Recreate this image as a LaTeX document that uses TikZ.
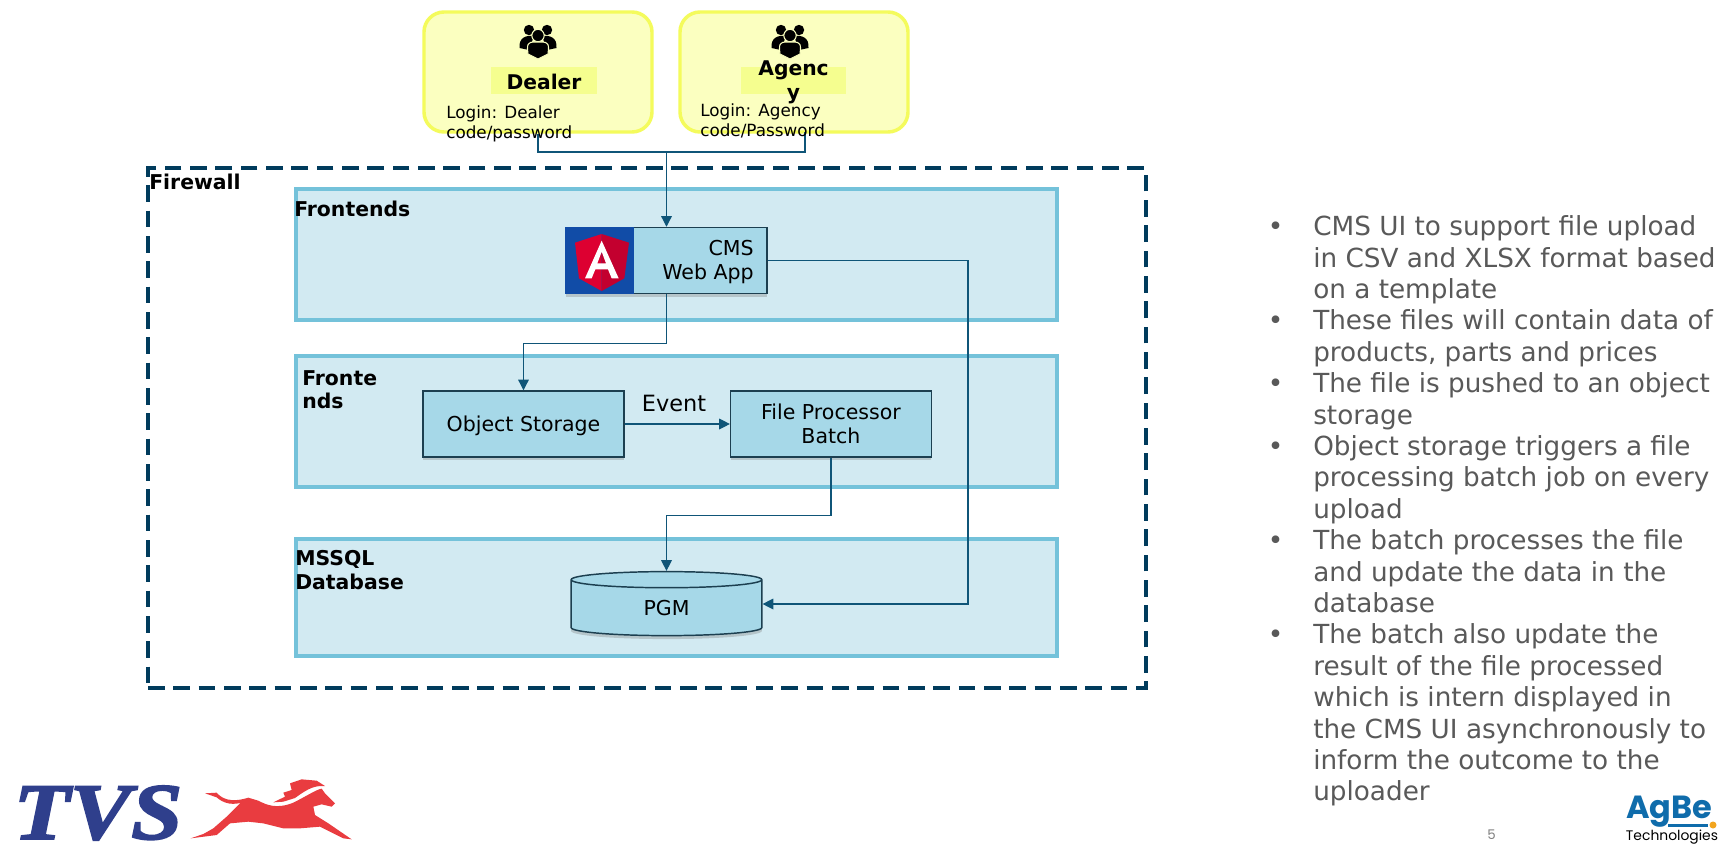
\documentclass[tikz,border=0pt]{standalone}
\usepackage{fontspec}
\setmainfont{DejaVu Sans}
\newfontfamily\logofont{Poppins}
\newfontfamily\tvsfont[FakeBold=2.4,FakeStretch=1.15]{Liberation Serif}
\usetikzlibrary{arrows.meta,positioning,shadows,shapes.geometric}
\definecolor{panelfill}{HTML}{D2EAF2}
\definecolor{panelline}{HTML}{74C2DA}
\definecolor{boxfill}{HTML}{A6D8E8}
\definecolor{boxline}{HTML}{1C3F50}
\definecolor{flowline}{HTML}{0F5578}
\definecolor{wallline}{HTML}{003B5C}
\definecolor{userfill}{HTML}{FBFFC0}
\definecolor{userline}{HTML}{F4FB5C}
\definecolor{userbar}{HTML}{F5FE8F}
\definecolor{notegrey}{HTML}{595959}
\definecolor{tvsblue}{HTML}{2F3F8C}
\definecolor{tvsred}{HTML}{E93C40}
\definecolor{agbeblue}{HTML}{0F6CAB}
\definecolor{agbedot}{HTML}{F2A51E}
\definecolor{ngblue}{HTML}{114CA7}
\definecolor{ngred}{HTML}{DD0031}
\definecolor{ngdark}{HTML}{C3002F}
\newcommand{\notemark}{\llap{\textbullet\hspace{22.5pt}}}
\tikzset{
  people/.pic={
    \fill (-9,-11) circle (5.2);
    \fill (9,-11) circle (5.2);
    \fill (-18.5,7) .. controls (-19.5,-4) and (-11,-6) .. (-4,-5) -- (-9,9) -- cycle;
    \fill (18.5,7) .. controls (19.5,-4) and (11,-6) .. (4,-5) -- (9,9) -- cycle;
    \fill[draw=userfill,line width=.8pt] (0,-5.5) circle (6.2);
    \fill[draw=userfill,line width=.8pt] (-10.5,8) .. controls (-11,0) and (-6,1) .. (0,1)
      .. controls (6,1) and (11,0) .. (10.5,8) -- (10,13) -- (0,18) -- (-10,13) -- cycle;
  }
}
\begin{document}
\begin{tikzpicture}[
  x=.75pt,y=-.75pt,
  panel/.style={draw=panelline,fill=panelfill,line width=2.4pt,minimum width=570.75pt},
  userbox/.style={draw=userline,fill=userfill,line width=2.6pt,rounded corners=15pt,minimum width=171pt,minimum height=90pt},
  userbarbox/.style={fill=userbar,minimum width=79pt,minimum height=20pt},
  usertitle/.style={font=\fontsize{15.2}{18}\selectfont\bfseries,align=center,inner sep=0pt},
  logintext/.style={font=\fontsize{12.6}{15}\selectfont,align=left,inner sep=0pt,anchor=west},
  paneltitle/.style={font=\fontsize{15.3}{17.5}\selectfont\bfseries,align=left,inner sep=0pt,anchor=west},
  service/.style={draw=boxline,fill=boxfill,line width=1.1pt,font=\fontsize{15.4}{18}\selectfont,align=center,
    minimum width=150.5pt,minimum height=49.5pt,inner sep=0pt,drop shadow={shadow xshift=0pt,shadow yshift=-2.6pt,opacity=.35}},
  flow/.style={draw=flowline,line width=.9pt},
  flowto/.style={flow,-{Triangle[length=8pt,width=8pt]}},
  notes/.style={font=\fontsize{19.7}{23.55}\selectfont,text=notegrey,align=left,inner sep=0pt,anchor=north west}
]
\useasboundingbox (0,0) rectangle (1735,854);
\fill[white] (0,0) rectangle (1735,854);

% firewall and panels
\node (firewall) [draw=wallline,line width=3pt,dash pattern=on 12.5pt off 6.5pt,minimum width=748.5pt,minimum height=390pt] at (647,428) {};
\node (webpanel) [panel,minimum height=98.25pt] at (676.5,254.5) {};
\node (filepanel) [panel,minimum height=98.25pt] at (676.5,421.5) {};
\node (dbpanel) [panel,minimum height=87.75pt] at (676.5,597.5) {};

% users
\node (dealerbox) [userbox] at (538,72) {};
\node (agencybox) [userbox] at (794,72) {};
\node (dealerbar) [userbarbox] at (544,80.5) {};
\node (agencybar) [userbarbox] at (793.5,80.5) {};
\pic at (538,41) {people};
\pic at (790,41) {people};

% services
\node (cms) [service] at (666.5,260.5) {};
\fill[ngblue] (cms.north west) rectangle ++(69,67);
\node (objstore) [service,text depth=0pt] at (523.5,424) {Object Storage};
\node (filebatch) [service,right=79pt of objstore] {File Processor\\Batch};
\node (pgm) [service,shape=cylinder,shape border rotate=90,aspect=.35,minimum width=143pt,minimum height=48pt,
  cylinder uses custom fill,cylinder body fill=boxfill,cylinder end fill=panelfill] at (666.5,608) {PGM};

% angular logo
\begin{scope}[shift={(540,210)},x=.25pt,y=-.25pt]
  \fill[ngred] (185,72) -- (105,98) -- (117,205) -- (185,243) -- cycle;
  \fill[ngdark] (185,72) -- (267,98) -- (253,205) -- (185,243) -- cycle;
  \fill[white,even odd rule] (185,92) -- (135,205) -- (155,205) -- (166,178) -- (204,178) -- (215,205) -- (236,205) -- cycle
    (185,125) -- (198,160) -- (172,160) -- cycle;
\end{scope}

% connectors
\coordinate (junction) at (666.5,152);
\coordinate (agencydrop) at (805,132);
\coordinate (rightbend) at (968,604);
\draw[flow] (dealerbox.south) |- (junction);
\draw[flow] (agencydrop) |- (junction);
\draw[flowto] (junction) -- (cms.north);
\draw[flowto] (cms.south) -- ++(0,49) -| (objstore.north);
\draw[flowto] (objstore.east) -- (filebatch.west);
\draw[flowto] (filebatch.south) -- ++(0,58) -| (pgm.north);
\draw[flowto] (cms.east) -| (rightbend) -- (rightbend -| pgm.east);

% texts
\node (cmstitle) [font=\fontsize{15.4}{18}\selectfont,align=right,inner sep=0pt,anchor=east] at (754,262) {CMS\\Web App};
\node (dealertitle) [usertitle] at (544,81.5) {Dealer};
\node (agencytitle) [usertitle] at (793.5,82.5) {Agenc\\y};
\node (dealerlogin) [logintext] at (446,123.5) {Login: Dealer\\code/password};
\node (agencylogin) [logintext] at (700,120.5) {Login: Agency\\code/Password};
\node (firewalltitle) [paneltitle] at (149,181.5) {Firewall};
\node (webtitle) [paneltitle] at (294,208.5) {Frontends};
\node (filetitle) [paneltitle] at (302,389.5) {Fronte\\nds};
\node (dbtitle) [paneltitle] at (295,570) {MSSQL\\Database};
\node (eventlabel) [font=\fontsize{16.8}{18}\selectfont,inner sep=0pt] at (674,403) {Event};

\node (notelist) [notes] at (1313,215.5) {
  \notemark CMS UI to support file upload\\
  in CSV and XLSX format based\\
  on a template\\
  \notemark These files will contain data of\\
  products, parts and prices\\
  \notemark The file is pushed to an object\\
  storage\\
  \notemark Object storage triggers a file\\
  processing batch job on every\\
  upload\\
  \notemark The batch processes the file\\
  and update the data in the\\
  database\\
  \notemark The batch also update the\\
  result of the file processed\\
  which is intern displayed in\\
  the CMS UI asynchronously to\\
  inform the outcome to the\\
  uploader};
\node (pagenum) [font=\logofont\fontsize{10}{12}\selectfont,text=gray,inner sep=0pt] at (1491.5,835) {5};

% tvs logo
\node (tvsmark) [font=\tvsfont\fontsize{60}{60}\selectfont\bfseries\itshape,text=tvsblue,inner sep=0pt] at (98,813) {TVS};
\begin{scope}[shift={(0,760)},x=.25pt,y=-.25pt]
  \fill[tvsred] (615,100) -- (650,98) .. controls (665,115) and (690,130) .. (745,113) -- (775,122)
    .. controls (800,135) and (830,148) .. (880,128) .. controls (920,108) and (950,88) .. (965,86)
    -- (975,100) -- (1005,130) -- (995,140) -- (965,133) -- (940,140) -- (945,165) -- (985,190) -- (1055,238)
    -- (1030,235) -- (960,200) -- (900,205) -- (850,205) -- (790,190) -- (745,185) -- (690,190)
    -- (650,225) -- (572,235) -- (610,222) -- (640,205) -- (680,170) -- (720,130) -- (740,122)
    .. controls (700,140) and (670,130) .. (650,112) -- cycle;
  \fill[tvsred] (820,127) -- (855,110) -- (850,98) -- (875,90) -- (870,70) -- (905,58) -- (950,62) -- (975,78)
    -- (960,78) .. controls (930,80) and (905,100) .. (885,114) -- (850,125) -- cycle;
\end{scope}

% agbe logo
\node (agbemark) [font=\logofont\fontsize{24}{24}\selectfont\bfseries,text=agbeblue,inner sep=0pt,anchor=base west] at (1626,818) {AgBe};
\fill[agbeblue] (1668,824) rectangle (1708,827);
\fill[agbedot] (1713,825) circle (3.5);
\node (agbename) [font=\logofont\fontsize{10.4}{12}\selectfont,inner sep=0pt] at (1672,837) {Technologies};
\end{tikzpicture}
\end{document}
